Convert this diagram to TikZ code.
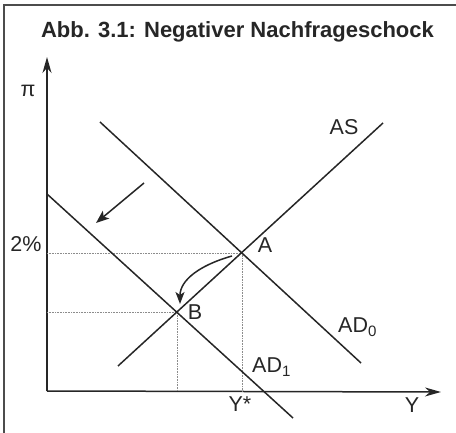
\documentclass[tikz,border=0pt]{standalone}
\usepackage{fontspec}
\setmainfont{Liberation Sans}
\usetikzlibrary{arrows.meta}
\begin{document}
\begin{tikzpicture}[x=1pt,y=-1pt,
  curve/.style={line width=1.5pt,black!85},
  axis/.style={line width=1.5pt,black!85,-{Stealth[length=16pt,width=9pt,inset=5pt]}},
  guide/.style={line width=0.6pt,black!45,densely dotted},
  shiftarrow/.style={line width=1.5pt,black!85,-{Stealth[length=13pt,width=10pt,inset=3pt]}},
  lbl/.style={font=\fontsize{21.5}{24}\selectfont,inner sep=0pt,text=black!85}]
\useasboundingbox (0,0) rectangle (456,433);
% frame
\draw[line width=2pt,black!70] (3.5,433) -- (3.5,5) -- (456,5);
% title
\node[anchor=base,inner sep=0pt,font=\bfseries\fontsize{22}{24}\selectfont,text=black!85] (title) at (237.5,37.5) {Abb. 3.1: Negativer Nachfrageschock};
% axes
\coordinate (O) at (47,391);
\coordinate (ytip) at (47,57);
\coordinate (xtip) at (441,392);
\draw[axis] (O) -- (ytip);
\draw[axis] (O) -- (xtip);
% points
\coordinate (A) at (242,253);
\coordinate (B) at (177,312);
\coordinate (Ay) at (47,253);
\coordinate (Ax) at (242,391);
\coordinate (By) at (47,312);
\coordinate (Bx) at (177,391);
% guides
\draw[guide] (Ay) -- (A) -- (Ax);
\draw[guide] (By) -- (B) -- (Bx);
% curves
\coordinate (ASlo) at (118,366);
\coordinate (AShi) at (383,123);
\coordinate (AD0hi) at (100,122);
\coordinate (AD0lo) at (361,363);
\coordinate (AD1hi) at (47,194);
\coordinate (AD1lo) at (293,418);
\draw[curve] (ASlo) -- (AShi);
\draw[curve] (AD0hi) -- (AD0lo);
\draw[curve] (AD1hi) -- (AD1lo);
% shift arrow
\coordinate (s0) at (144,183);
\coordinate (s1) at (96,223);
\draw[shiftarrow] (s0) -- (s1);
% movement from A to B
\coordinate (m0) at (232,256);
\coordinate (m1) at (180,304);
\draw[line width=1.5pt,black!85,-{Stealth[length=12pt,width=9pt,inset=3pt]}] (m0) .. controls (200,265) and (180,280) .. (m1);
% labels
\node[lbl,anchor=base] (pi) at (28,97) {π};
\node[lbl,anchor=base] (pct) at (26,252) {2\%};
\node[lbl,anchor=base] (lA) at (265,253) {A};
\node[lbl,anchor=base] (lB) at (195,320) {B};
\node[lbl,anchor=base] (lAS) at (344,135) {AS};
\node[lbl,anchor=base west] (lAD0) at (338,333) {AD\textsubscript{0}};
\node[lbl,anchor=base west] (lAD1) at (252,373) {AD\textsubscript{1}};
\node[lbl,anchor=base] (lYs) at (240,412) {Y*};
\node[lbl,anchor=base] (lY) at (412,413) {Y};
\end{tikzpicture}
\end{document}
